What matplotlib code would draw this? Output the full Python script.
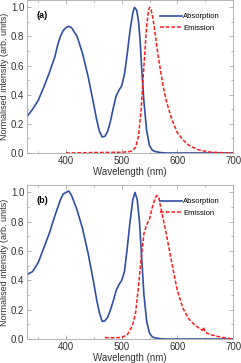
import matplotlib
matplotlib.use("Agg")
import matplotlib.pyplot as plt
from matplotlib.ticker import MultipleLocator

plt.rcParams["font.family"] = ["Liberation Sans", "DejaVu Sans"]

# panel (a)
abs_a_x = [330, 340, 350, 360, 370, 380, 385, 390, 395, 400, 405, 410, 420, 430, 440, 450,
           455, 460, 465, 470, 475, 480, 485, 490, 495, 500, 505, 510, 515, 520, 523, 527,
           530, 533, 536, 540, 545, 550, 555, 560, 570, 580, 700]
abs_a_y = [0.25, 0.30, 0.36, 0.45, 0.55, 0.66, 0.74, 0.80, 0.84, 0.86, 0.87, 0.86, 0.80, 0.68,
           0.52, 0.33, 0.23, 0.15, 0.11, 0.115, 0.15, 0.22, 0.31, 0.39, 0.43, 0.46, 0.54, 0.68,
           0.84, 0.96, 1.0, 0.98, 0.91, 0.78, 0.58, 0.35, 0.15, 0.05, 0.02, 0.01, 0.003, 0.0, 0.0]
em_a_x = [400, 450, 500, 515, 520, 525, 530, 535, 540, 545, 548, 550, 553, 556, 560, 565,
          570, 575, 580, 590, 600, 610, 620, 630, 640, 650, 660, 680, 700]
em_a_y = [0.0, 0.003, 0.005, 0.01, 0.02, 0.04, 0.11, 0.30, 0.60, 0.88, 0.97, 1.0, 0.98, 0.93,
          0.82, 0.68, 0.56, 0.45, 0.36, 0.23, 0.14, 0.09, 0.055, 0.035, 0.02, 0.012, 0.006, 0.002, 0.0]

# panel (b)
abs_b_x = [330, 340, 350, 360, 370, 380, 390, 395, 400, 405, 410, 420, 430, 440, 450, 455,
           460, 465, 470, 475, 480, 485, 490, 495, 500, 505, 510, 515, 520, 524, 528, 532,
           536, 540, 545, 550, 555, 560, 570, 580, 700]
abs_b_y = [0.44, 0.46, 0.52, 0.62, 0.72, 0.84, 0.95, 0.99, 1.0, 1.01, 0.98, 0.88, 0.75, 0.58,
           0.38, 0.27, 0.18, 0.12, 0.125, 0.15, 0.20, 0.26, 0.33, 0.37, 0.40, 0.46, 0.62, 0.80,
           0.95, 1.0, 0.95, 0.80, 0.55, 0.30, 0.12, 0.04, 0.015, 0.008, 0.002, 0.0, 0.0]
em_b_x = [470, 480, 490, 500, 505, 510, 515, 520, 525, 530, 535, 540, 545, 550, 555, 560,
          563, 567, 570, 575, 580, 590, 600, 610, 620, 630, 640, 645, 647, 650, 660, 670, 680, 690, 700]
em_b_y = [0.01, 0.008, 0.01, 0.01, 0.02, 0.03, 0.06, 0.10, 0.18, 0.35, 0.55, 0.72, 0.78, 0.82,
          0.90, 0.96, 0.98, 0.96, 0.90, 0.81, 0.72, 0.52, 0.33, 0.21, 0.14, 0.10, 0.07, 0.06, 0.08,
          0.045, 0.03, 0.02, 0.012, 0.006, 0.0]

panels = [("(a)", abs_a_x, abs_a_y, em_a_x, em_a_y),
          ("(b)", abs_b_x, abs_b_y, em_b_x, em_b_y)]

blue = "#2f4fa5"
red = "#ff1a1a"
grey = "#a8a8a8"

fig = plt.figure(figsize=(2.41, 3.63), dpi=100)
boxes = [[0.112, 0.5785, 0.855, 0.4215], [0.112, 0.066, 0.855, 0.424]]

for box, (tag, ax_, ay_, ex_, ey_) in zip(boxes, panels):
    ax = fig.add_axes(box)
    ax.plot(ax_, ay_, color=blue, lw=1.2, label="Absorption")
    ax.plot(ex_, ey_, color=red, lw=1.1, ls=(0, (2.5, 1.2)), label="Emission")
    ax.set_xlim(330, 700)
    ax.set_ylim(0, 1.05)
    ax.xaxis.set_major_locator(MultipleLocator(100))
    ax.xaxis.set_minor_locator(MultipleLocator(50))
    ax.yaxis.set_major_locator(MultipleLocator(0.2))
    ax.yaxis.set_minor_locator(MultipleLocator(0.1))
    ax.tick_params(which="both", direction="in", top=True, right=True, color=grey,
                   labelsize=7, pad=2, width=0.6, labelcolor="#333333")
    ax.tick_params(which="major", length=3)
    ax.tick_params(which="minor", length=1.5)
    for s in ax.spines.values():
        s.set_color(grey)
        s.set_linewidth(0.6)
    ax.set_xlabel("Wavelength (nm)", fontsize=7, labelpad=1, color="#333333")
    ax.set_ylabel("Normalised intensity (arb. units)", fontsize=6.5, labelpad=1,
                  color="#333333")
    ax.text(0.045, 0.90, tag, transform=ax.transAxes, fontsize=6.5, fontweight="bold",
            va="center")
    ax.legend(loc="upper right", fontsize=5.5, frameon=False, handlelength=2.8,
              handletextpad=0.2, labelspacing=0.5, borderaxespad=1.3)

fig.savefig("out.png", dpi=100)
